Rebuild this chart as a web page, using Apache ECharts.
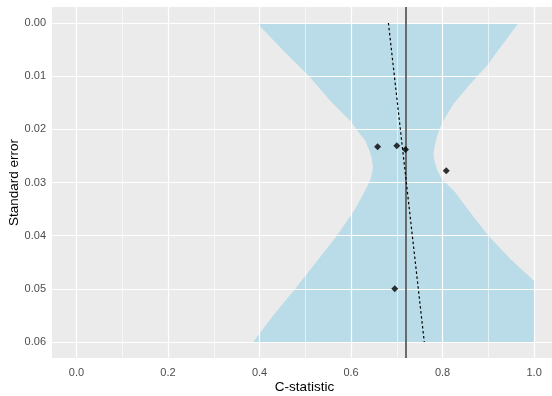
<!DOCTYPE html>
<html>
<head>
<meta charset="utf-8">
<script src="https://cdn.jsdelivr.net/npm/echarts@6/dist/echarts.min.js"></script>
<style>
  html, body { margin: 0; padding: 0; background: #fff; }
  #main { width: 552px; height: 396px; }
</style>
</head>
<body>
<div id="main"></div>
<script>
// funnel region, left edge (top -> bottom)
var leftSE = [0, 0.0052, 0.0099, 0.0146, 0.0184, 0.0205, 0.0221, 0.0240, 0.0253, 0.0272, 0.0293, 0.0315, 0.0350, 0.0400, 0.0453, 0.0500, 0.0550, 0.06];
var leftX  = [0.394, 0.452, 0.507, 0.554, 0.598, 0.616, 0.631, 0.640, 0.645, 0.648, 0.643, 0.631, 0.609, 0.569, 0.521, 0.478, 0.430, 0.386];
// funnel region, right edge (top -> bottom)
var rightSE = [0, 0.0046, 0.0077, 0.0118, 0.0152, 0.0176, 0.0196, 0.0216, 0.0234, 0.0247, 0.0259, 0.0276, 0.0293, 0.0318, 0.0356, 0.0400, 0.0444, 0.0485, 0.06];
var rightX  = [0.966, 0.926, 0.900, 0.857, 0.824, 0.807, 0.795, 0.787, 0.782, 0.780, 0.782, 0.788, 0.798, 0.827, 0.860, 0.900, 0.948, 1.0, 1.0];

// studies
var studyC  = [0.658, 0.700, 0.719, 0.808, 0.6955];
var studySE = [0.0233, 0.0231, 0.0238, 0.0278, 0.0500];

var pooledC = 0.716;
var regLineC  = [0.6816, 0.760];
var regLineSE = [0, 0.06];

var xTicks = [0, 0.2, 0.4, 0.6, 0.8, 1.0];
var xMinor = [0.1, 0.3, 0.5, 0.7, 0.9];
var yTicks = [0, 0.01, 0.02, 0.03, 0.04, 0.05, 0.06];
var yMinor = [0.005, 0.015, 0.025, 0.035, 0.045, 0.055];

var font = 'Liberation Sans, Arial, sans-serif';
var chart = echarts.init(document.getElementById('main'));

function vLines(vals) { return vals.map(function (v) { return { xAxis: v }; }); }
function hLines(vals) { return vals.map(function (v) { return { yAxis: v }; }); }
function gridSeries(data, width) {
    return {
        type: 'line', data: [], silent: true, z: 1,
        markLine: {
            silent: true, symbol: ['none', 'none'], label: { show: false },
            lineStyle: { color: '#ffffff', width: width, type: 'solid', opacity: 1 },
            emphasis: { disabled: true },
            data: data
        }
    };
}

var regData = regLineC.map(function (c, i) { return [c, regLineSE[i]]; });
var pts = studyC.map(function (c, i) { return [c, studySE[i]]; });

chart.setOption({
    animation: false,
    grid: {
        left: 52, top: 7, right: -5, bottom: 38,
        outerBoundsMode: 'none', containLabel: false,
        show: true, backgroundColor: '#EBEBEB', borderWidth: 0
    },
    xAxis: {
        type: 'value', min: -0.0535, max: 1.05,
        name: 'C-statistic', nameLocation: 'middle', nameGap: 22, nameMoveOverlap: false,
        nameTextStyle: { color: '#000', fontSize: 13.5, fontFamily: font },
        axisLine: { show: false },
        axisTick: { show: true, customValues: xTicks, length: 3.5, lineStyle: { color: '#333' } },
        axisLabel: { customValues: xTicks, margin: 9, color: '#4D4D4D', fontSize: 11, fontFamily: font,
            formatter: function (v) { return v.toFixed(1); } },
        splitLine: { show: false }
    },
    yAxis: {
        type: 'value', inverse: true, min: -0.003, max: 0.063,
        name: 'Standard error', nameLocation: 'middle', nameGap: 31, nameMoveOverlap: false,
        nameTextStyle: { color: '#000', fontSize: 13.5, fontFamily: font },
        axisLine: { show: false },
        axisTick: { show: true, customValues: yTicks, length: 3.5, lineStyle: { color: '#333' } },
        axisLabel: { customValues: yTicks, margin: 6, color: '#4D4D4D', fontSize: 11, fontFamily: font,
            formatter: function (v) { return v.toFixed(2); } },
        splitLine: { show: false }
    },
    series: [
        gridSeries(vLines(xMinor).concat(hLines(yMinor)), 0.6),
        gridSeries(vLines(xTicks).concat(hLines(yTicks)), 1.2),
        {
            type: 'custom', z: 3, silent: true,
            data: [[0, 0]],
            renderItem: function (params, api) {
                var poly = [];
                for (var i = 0; i < leftX.length; i++) poly.push(api.coord([leftX[i], leftSE[i]]));
                for (var j = rightX.length - 1; j >= 0; j--) poly.push(api.coord([rightX[j], rightSE[j]]));
                return {
                    type: 'polygon', shape: { points: poly },
                    style: { fill: 'rgba(173,216,230,0.82)', stroke: null }
                };
            }
        },
        {
            type: 'line', data: [], silent: true, z: 4,
            markLine: {
                silent: true, symbol: ['none', 'none'], label: { show: false },
                lineStyle: { color: '#5E5E5E', width: 1.8, type: 'solid' },
                data: [{ xAxis: pooledC }]
            }
        },
        {
            type: 'line', data: regData, z: 5, symbol: 'none', silent: true,
            lineStyle: { color: '#000', width: 1.2, type: [2.5, 2.5] }
        },
        {
            type: 'scatter', data: pts, z: 6, symbol: 'diamond', symbolSize: 7,
            itemStyle: { color: '#000' }
        }
    ]
});
</script>
</body>
</html>
